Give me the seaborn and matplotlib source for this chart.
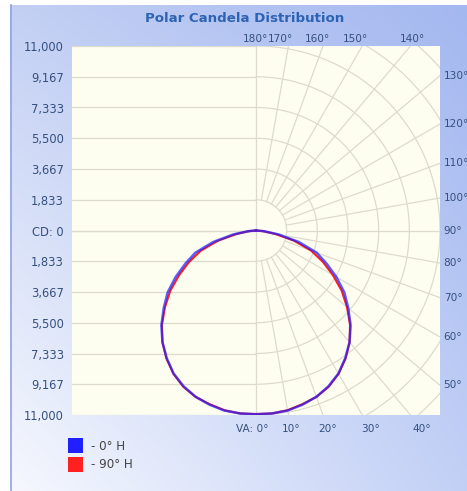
import numpy as np
import pandas as pd
import matplotlib
matplotlib.use("Agg")
import matplotlib.pyplot as plt
from matplotlib.patches import Rectangle
import seaborn as sns

# ---- data ----
angles = [0, 5, 10, 15, 20, 25, 30, 35, 40, 45, 50, 55, 60, 65, 70, 75, 80, 85, 90]
cd_0h = [10950, 10950, 10900, 10750, 10550, 10250, 9850, 9300, 8700, 8000,
         7200, 6450, 5550, 4650, 3850, 2650, 1400, 500, 0]
cd_90h = [10950, 10950, 10880, 10720, 10560, 10280, 9870, 9330, 8700, 7950,
          7100, 6250, 5300, 4400, 3500, 2350, 1150, 350, 0]
series_names = ["0° H", "90° H"]
series_colors = ["#1f1fff", "#ff2020"]
max_cd = 11000
n_rings = 6
y_tick_values = [max_cd - k * max_cd / n_rings for k in range(2 * n_rings + 1)]
spoke_angles = list(range(10, 180, 10))
top_labels = [180, 170, 160, 150, 140]
right_labels = [130, 120, 110, 100, 90, 80, 70, 60, 50]
bottom_labels = [10, 20, 30, 40]

# ---- build long table: mirror each plane to the left half ----
rows = []
for name, vals in zip(series_names, [cd_0h, cd_90h]):
    order = 0
    for a, v in reversed(list(zip(angles, vals))):   # left half, from top down
        t = np.deg2rad(a)
        rows.append((name, order, -v * np.sin(t), -v * np.cos(t)))
        order += 1
    for a, v in list(zip(angles, vals))[1:]:         # right half, from bottom up
        t = np.deg2rad(a)
        rows.append((name, order, v * np.sin(t), -v * np.cos(t)))
        order += 1
df = pd.DataFrame(rows, columns=["series", "order", "x", "y"])

W, H = 467, 491
fig = plt.figure(figsize=(W / 100, H / 100), dpi=100)
fig.patch.set_facecolor("white")

# ---- panel background gradient ----
bg = fig.add_axes([0, 0, 1, 1], zorder=-10)
bg.set_xlim(0, W)
bg.set_ylim(H, 0)
bg.axis("off")
def hex2rgb(h):
    h = h.lstrip("#")
    return np.array([int(h[i:i + 2], 16) / 255 for i in (0, 2, 4)])
tl, tr, bl, br = (hex2rgb(c) for c in ["#c3d0f4", "#a4b8f0", "#f6f8fe", "#c2d0f6"])
gx = np.linspace(0, 1, 200)[None, :, None]
gy = np.linspace(0, 1, 200)[:, None, None]
grad = (tl * (1 - gx) * (1 - gy) + tr * gx * (1 - gy) + bl * (1 - gx) * gy + br * gx * gy)
bg.imshow(grad, extent=[10, W, H, 5], aspect="auto", interpolation="bilinear")
bg.plot([10.5, 10.5], [5, H], color="#8ea4e6", lw=1.2)

# ---- main plot area ----
ax = fig.add_axes([72 / W, (H - 415) / H, 368 / W, 369 / H])
ax.set_facecolor("#fefef0")
R = max_cd
ax.set_xlim(-R, R)
ax.set_ylim(-R, R)
for s in ax.spines.values():
    s.set_visible(False)

gcol = "#dddbcb"
glw = 0.9
step = R / n_rings
# left half: horizontal lines
for k in range(0, n_rings + 1):
    for sgn in (1, -1):
        ax.plot([-R, 0], [sgn * k * step, sgn * k * step], color=gcol, lw=glw, zorder=1)
# right half: arcs
tt = np.linspace(0, np.pi, 300)
for k in range(1, 9):
    r = k * step
    ax.plot(r * np.sin(tt), -r * np.cos(tt), color=gcol, lw=glw, zorder=1)
# spokes
ax.plot([0, 0], [-R, R], color=gcol, lw=glw, zorder=1)
for a in spoke_angles:
    t = np.deg2rad(a)
    rr = np.array([step, 3 * R])
    ax.plot(rr * np.sin(t), -rr * np.cos(t), color=gcol, lw=glw, zorder=1)

# ---- curves ----
sns.lineplot(data=df[df.series == series_names[1]], x="x", y="y", sort=False,
             estimator=None, color=series_colors[1], lw=1.5, ax=ax, zorder=3,
             legend=False)
sns.lineplot(data=df[df.series == series_names[0]], x="x", y="y", sort=False,
             estimator=None, color=series_colors[0], lw=1.8, alpha=0.72, ax=ax,
             zorder=4, legend=False)
ax.set_xlabel("")
ax.set_ylabel("")

# ---- y tick labels ----
lab_col = "#35507f"
ylabels = ["CD: 0" if abs(v) < 1 else f"{abs(v):,.0f}" for v in y_tick_values]
ax.set_yticks(y_tick_values)
ax.set_yticklabels(ylabels)
ax.set_xticks([])
ax.tick_params(axis="y", length=0, pad=6, labelsize=8.3, labelcolor=lab_col)

# ---- angle labels ----
afs = 7.6
top_x_px = [256, 280, 317, 355, 412]
for a, xp in zip(top_labels, top_x_px):
    ax.text((xp - 72) / 368, 1.005, f"{a}°", transform=ax.transAxes, ha="center",
            va="bottom", fontsize=afs, color=lab_col, clip_on=False)
for a in right_labels:
    t = np.deg2rad(a)
    yy = -R * np.cos(t) / np.sin(t)
    ax.text(R * 1.02, yy, f"{a}°", ha="left", va="center", fontsize=afs,
            color=lab_col, clip_on=False)
ylab = -R * 1.075
for a in bottom_labels:
    t = np.deg2rad(a)
    xx = -ylab * np.tan(t)
    ax.text(xx, ylab, f"{a}°", ha="center", va="center", fontsize=afs,
            color=lab_col, clip_on=False)
ax.text(R * 0.07, ylab, "VA: 0°", ha="right", va="center", fontsize=afs,
        color=lab_col, clip_on=False)

# ---- title ----
fig.text(245 / W, 1 - 18 / H, "Polar Candela Distribution", ha="center", va="center",
         fontsize=9.6, fontweight="bold", color="#2d63b3")

# ---- legend ----
for i, (name, c) in enumerate(zip(series_names, series_colors)):
    ytop = 438 + i * 19
    fig.patches.append(Rectangle((68 / W, 1 - (ytop + 15) / H), 15 / W, 15 / H,
                                 transform=fig.transFigure, facecolor=c,
                                 edgecolor="none", figure=fig))
    fig.text(91 / W, 1 - (ytop + 8) / H, f"- {name}", ha="left", va="center",
             fontsize=8.6, color="#444444")

fig.savefig("out.png", dpi=100)
